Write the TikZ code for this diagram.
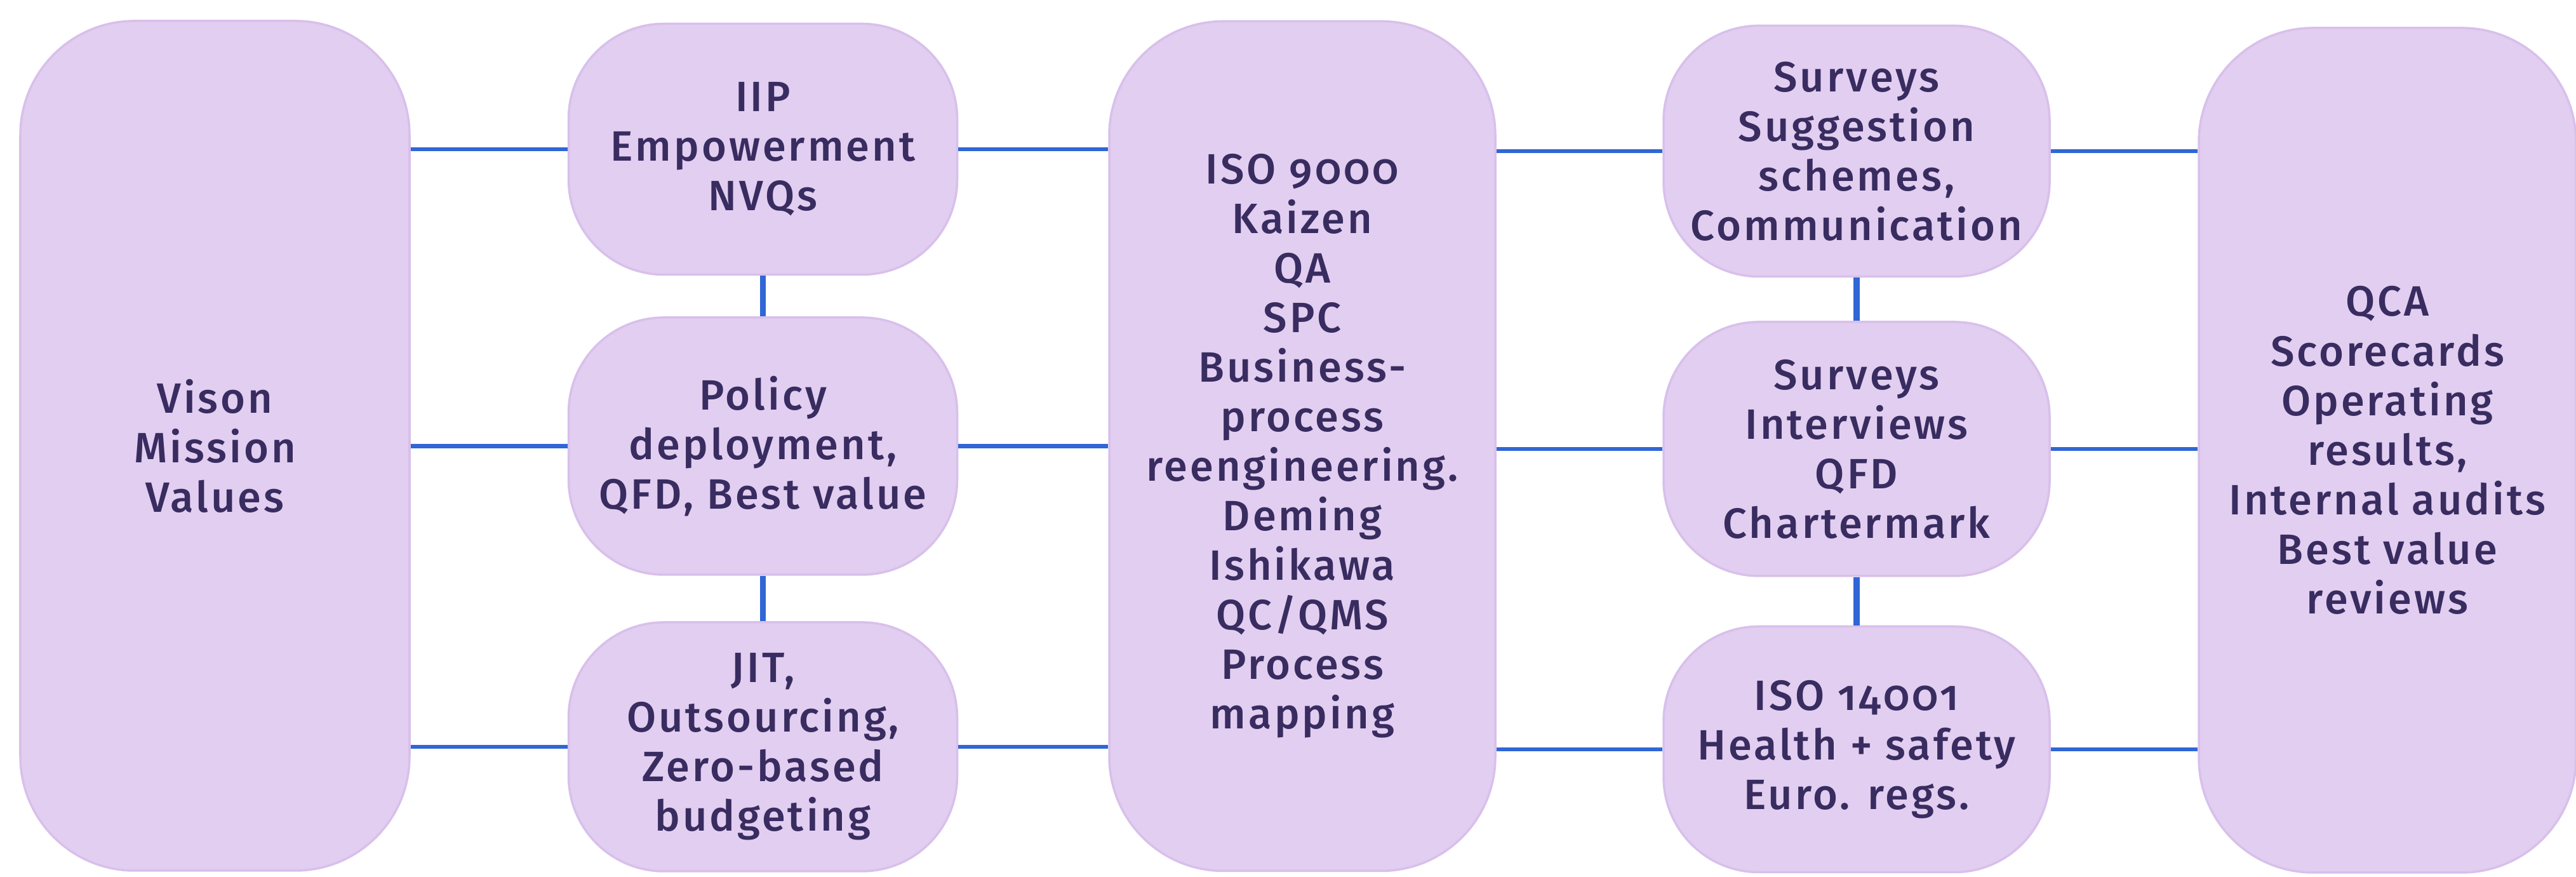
\documentclass[tikz,border=0pt]{standalone}
\usepackage{fontspec}
\setmainfont{Fira Sans Medium}[Numbers=OldStyle,LetterSpace=6]
\definecolor{boxfill}{RGB}{226,206,240}
\definecolor{boxline}{RGB}{216,192,235}
\definecolor{linkblue}{RGB}{48,102,214}
\definecolor{textink}{RGB}{56,44,96}

\begin{document}
\begin{tikzpicture}
        \tikzstyle{block}=[rectangle,draw=boxline,fill=boxfill,line width=1pt,align=center,text=textink,font=\fontsize{19}{22.2}\selectfont]
        \tikzstyle{tallblock}=[block,rounded corners=1.8cm,minimum height=13.38cm]
        \tikzstyle{smallblock}=[block,rounded corners=1.5cm,minimum width=6.12cm,minimum height=3.95cm]
        \tikzstyle{link}=[draw=linkblue,line width=1.9pt]
        \tikzstyle{uplink}=[draw=linkblue,line width=2.7pt]
        \useasboundingbox (0,0) rectangle (40.57,13.81);
       \begin{scope}
         \node [tallblock,minimum width=6.13cm] (vision) at (3.385,6.79) {Vison\\Mission\\Values};
         \node [smallblock] (iip) at (12.015,11.46) {IIP\\Empowerment\\NVQs};
         \node [smallblock,minimum height=4.05cm] (policy) at (12.015,6.785) {Policy\\deployment,\\QFD, Best value};
         \node [smallblock,minimum height=3.92cm] (jit) at (12.015,2.05) {JIT,\\Outsourcing,\\Zero-based\\budgeting};
         \node [tallblock,minimum width=6.08cm] (iso) at (20.51,6.785) {ISO 9000\\Kaizen\\QA\\SPC\\Business-\\process\\reengineering.\\Deming\\Ishikawa\\QC/QMS\\Process\\mapping};
         \node [smallblock,minimum width=6.08cm] (surveys) at (29.24,11.43) {Surveys\\Suggestion\\schemes,\\Communication};
         \node [smallblock,minimum width=6.08cm,minimum height=4cm] (interviews) at (29.24,6.74) {Surveys\\Interviews\\QFD\\Chartermark};
         \node [smallblock,minimum width=6.08cm,minimum height=3.87cm] (env) at (29.24,2.01) {ISO 14001\\Health + safety\\Euro. regs.};
         \node [tallblock,minimum width=5.94cm,minimum height=13.3cm] (qca) at (37.6,6.72) {QCA\\Scorecards\\Operating\\results,\\Internal audits\\Best value\\reviews};

         \path[link] (iip.west) -- (iip.west -| vision.east);
         \path[link] (policy.west) -- (policy.west -| vision.east);
         \path[link] (jit.west) -- (jit.west -| vision.east);
         \path[link] (iip.east) -- (iip.east -| iso.west);
         \path[link] (policy.east) -- (policy.east -| iso.west);
         \path[link] (jit.east) -- (jit.east -| iso.west);
         \path[link] (surveys.west) -- (surveys.west -| iso.east);
         \path[link] (interviews.west) -- (interviews.west -| iso.east);
         \path[link] (env.west) -- (env.west -| iso.east);
         \path[link] (surveys.east) -- (surveys.east -| qca.west);
         \path[link] (interviews.east) -- (interviews.east -| qca.west);
         \path[link] (env.east) -- (env.east -| qca.west);
         \path[uplink] (iip) edge (policy);
         \path[uplink] (policy) edge (jit);
         \path[uplink] (surveys) edge (interviews);
         \path[uplink] (interviews) edge (env);

        \end{scope}
      \end{tikzpicture}
\end{document}
